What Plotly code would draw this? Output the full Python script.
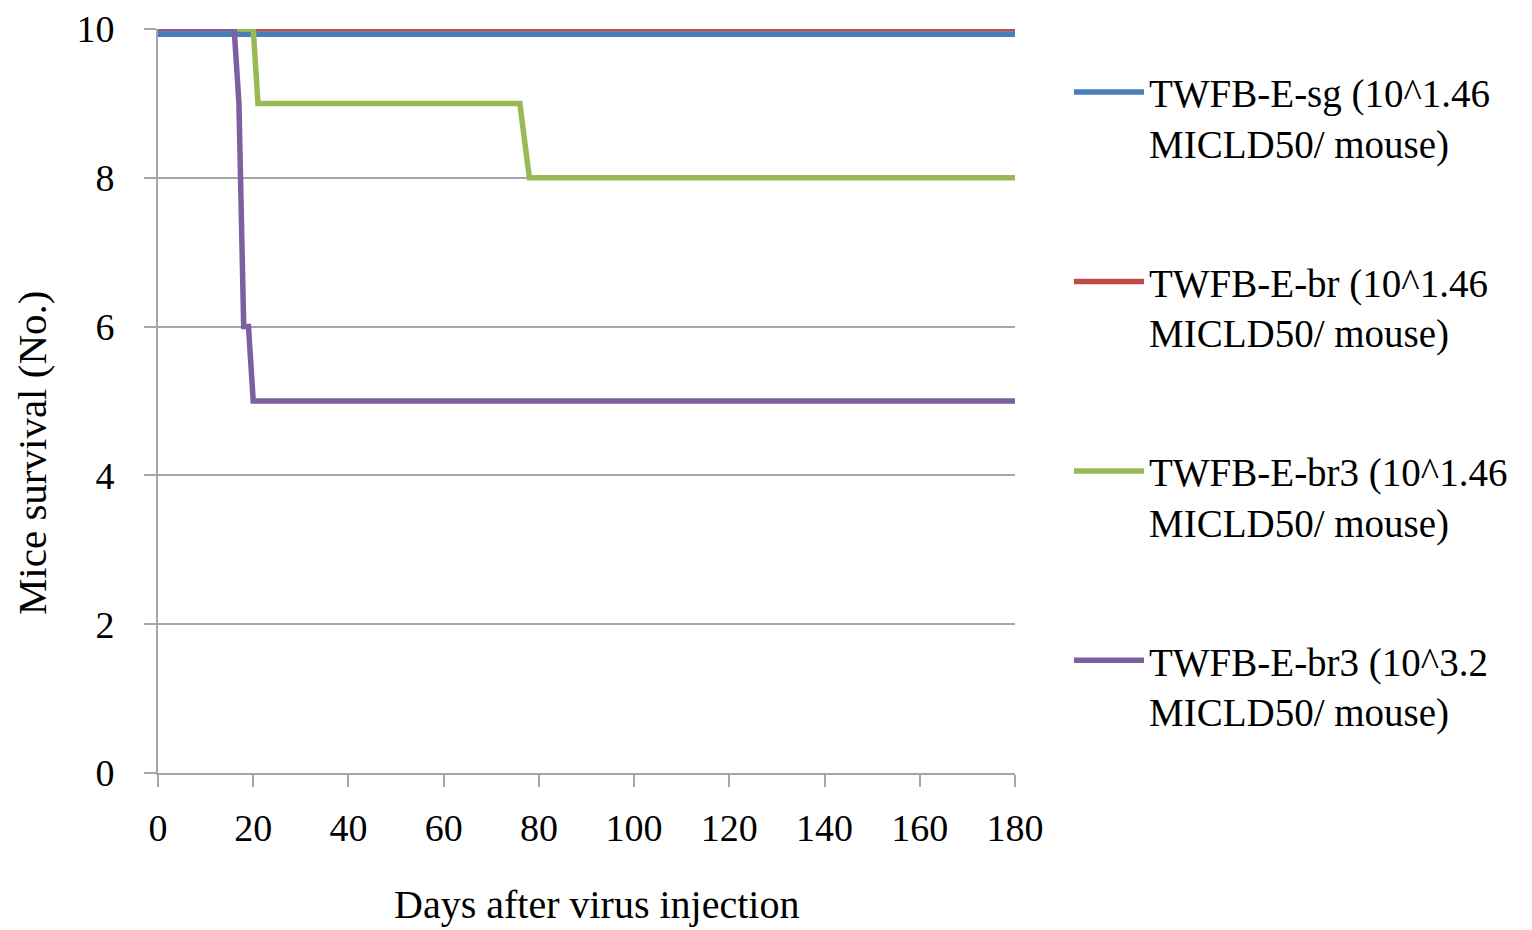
import plotly.graph_objects as go

# Data
sg_days = [0, 180]
sg_vals = [9.93, 9.93]
br_days = [0, 180]
br_vals = [10, 10]
br3_days = [0, 20, 21, 76, 78, 180]
br3_vals = [10, 10, 9, 9, 8, 8]
br3h_days = [0, 16, 17, 18, 19, 20, 180]
br3h_vals = [10, 10, 9, 6, 6, 5, 5]

names = {
    "sg": "TWFB-E-sg (10^1.46<br>MICLD50/ mouse)",
    "br": "TWFB-E-br (10^1.46<br>MICLD50/ mouse)",
    "br3": "TWFB-E-br3 (10^1.46<br>MICLD50/ mouse)",
    "br3h": "TWFB-E-br3 (10^3.2<br>MICLD50/ mouse)",
}
colors = {"sg": "#4a7ebb", "br": "#be4b48", "br3": "#98b954", "br3h": "#7d60a0"}
data = {
    "sg": (sg_days, sg_vals),
    "br": (br_days, br_vals),
    "br3": (br3_days, br3_vals),
    "br3h": (br3h_days, br3h_vals),
}
legend_rank = {"sg": 1, "br": 2, "br3": 3, "br3h": 4}
draw_order = ["br", "sg", "br3", "br3h"]

FONT = "Liberation Serif, Times New Roman, serif"

fig = go.Figure()
for key in draw_order:
    xs, ys = data[key]
    fig.add_trace(go.Scatter(
        x=xs, y=ys, mode="lines", name=names[key],
        line=dict(color=colors[key], width=5.5),
        legendgroup=key, legendrank=legend_rank[key],
    ))

axis_common = dict(
    showline=True, linecolor="#a6a6a6", linewidth=2,
    ticks="outside", tickcolor="#a6a6a6", ticklen=12, tickwidth=2,
    tickfont=dict(family=FONT, size=38, color="black"),
    zeroline=False, automargin=False,
)

fig.update_layout(
    width=1532, height=930,
    margin=dict(l=158, r=517, t=29, b=157),
    paper_bgcolor="white", plot_bgcolor="white",
    font=dict(family=FONT, size=38, color="black"),
    showlegend=True,
    legend=dict(
        x=1.063, xanchor="left", y=0.958, yanchor="top",
        font=dict(family=FONT, size=39, color="black"),
        tracegroupgap=85, itemwidth=70, valign="top",
        bgcolor="rgba(0,0,0,0)", borderwidth=0,
    ),
    xaxis=dict(
        range=[0, 180], tickvals=[0, 20, 40, 60, 80, 100, 120, 140, 160, 180],
        showgrid=False, ticklabelstandoff=8,
        **axis_common,
    ),
    yaxis=dict(
        range=[0, 10], tickvals=[0, 2, 4, 6, 8, 10],
        showgrid=True, gridcolor="#a6a6a6", gridwidth=1.5,
        ticklabelstandoff=22,
        **axis_common,
    ),
    annotations=[
        dict(text="Days after virus injection", xref="paper", yref="paper",
             x=0.512, y=-0.177, xanchor="center", yanchor="middle", showarrow=False,
             font=dict(family=FONT, size=40, color="black")),
        dict(text="Mice survival (No.)", xref="paper", yref="paper",
             x=-0.147, y=0.43, xanchor="center", yanchor="middle", showarrow=False,
             textangle=-90, font=dict(family=FONT, size=41, color="black")),
    ],
)

fig.write_html("out.html")
